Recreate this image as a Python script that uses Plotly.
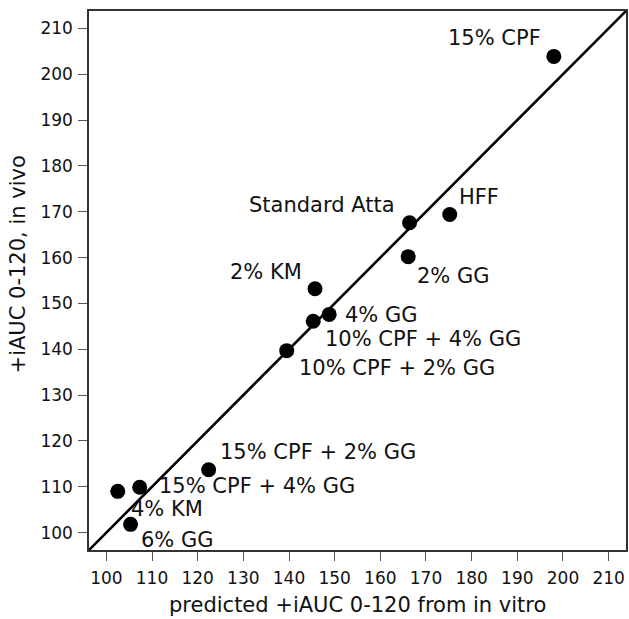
import plotly.graph_objects as go

# ---- data ----
labels = ["15% CPF", "Standard Atta", "HFF", "2% GG", "2% KM", "4% GG",
          "10% CPF + 4% GG", "10% CPF + 2% GG", "15% CPF + 2% GG",
          "15% CPF + 4% GG", "4% KM", "6% GG"]
predicted = [198.0, 166.4, 175.2, 166.1, 145.7, 148.8, 145.3, 139.5, 122.4, 107.3, 102.5, 105.3]
in_vivo = [203.9, 167.6, 169.4, 160.2, 153.2, 147.6, 146.1, 139.7, 113.7, 109.9, 109.0, 101.8]
tick_vals = [100, 110, 120, 130, 140, 150, 160, 170, 180, 190, 200, 210]

# ---- label placement (pixel offsets from each point) ----
label_anchor = ["right", "right", "left", "left", "right", "left",
                "left", "left", "left", "left", "left", "left"]
label_dx = [-12, -14, 8, 8, -12, 15, 11, 11, 10, 18, 12, 9]
label_dy = [18, 18, 18, -19, 17, -1, -18, -17, 18, 1, -18, -16]

axis_range = [96.2, 213.8]
font_family = "DejaVu Sans, Verdana, sans-serif"

fig = go.Figure()
# identity line y = x across the whole axis range
fig.add_trace(go.Scatter(x=axis_range, y=axis_range, mode="lines",
                         line=dict(color="black", width=2.6),
                         hoverinfo="skip", showlegend=False))
fig.add_trace(go.Scatter(x=predicted, y=in_vivo, mode="markers",
                         marker=dict(color="black", size=15),
                         showlegend=False))

for name, xv, yv, anc, dx, dy in zip(labels, predicted, in_vivo, label_anchor, label_dx, label_dy):
    fig.add_annotation(x=xv, y=yv, xref="x", yref="y", text=name,
                       showarrow=False, xanchor=anc, yanchor="middle",
                       xshift=dx, yshift=dy, borderpad=0,
                       font=dict(family=font_family, size=21, color="#111"))

axis_common = dict(range=axis_range, tickvals=tick_vals, showgrid=False,
                   zeroline=False, showline=True, mirror=True, automargin=False,
                   linecolor="#333", linewidth=1.5, ticks="outside",
                   ticklen=9, tickwidth=1.3, tickcolor="#555",
                   tickfont=dict(family=font_family, size=17, color="#111"))
fig.update_xaxes(**axis_common, ticklabelstandoff=3)
fig.update_yaxes(**axis_common, ticklabelstandoff=2)

# axis titles
fig.add_annotation(text="predicted +iAUC 0-120 from in vitro", xref="paper", yref="paper",
                   x=0.5, y=-0.102, xanchor="center", yanchor="middle", showarrow=False,
                   font=dict(family=font_family, size=21, color="#111"))
fig.add_annotation(text="+iAUC 0-120, in vivo", xref="paper", yref="paper",
                   x=-0.132, y=0.530, xanchor="center", yanchor="middle", textangle=-90,
                   showarrow=False, font=dict(family=font_family, size=21, color="#111"))

fig.update_layout(width=629, height=619,
                  margin=dict(l=89, r=3, t=11, b=69),
                  plot_bgcolor="white", paper_bgcolor="white")

fig.write_html("out.html", config={"displayModeBar": False},
               post_script="document.body.style.margin='0';document.body.style.overflow='hidden';")
